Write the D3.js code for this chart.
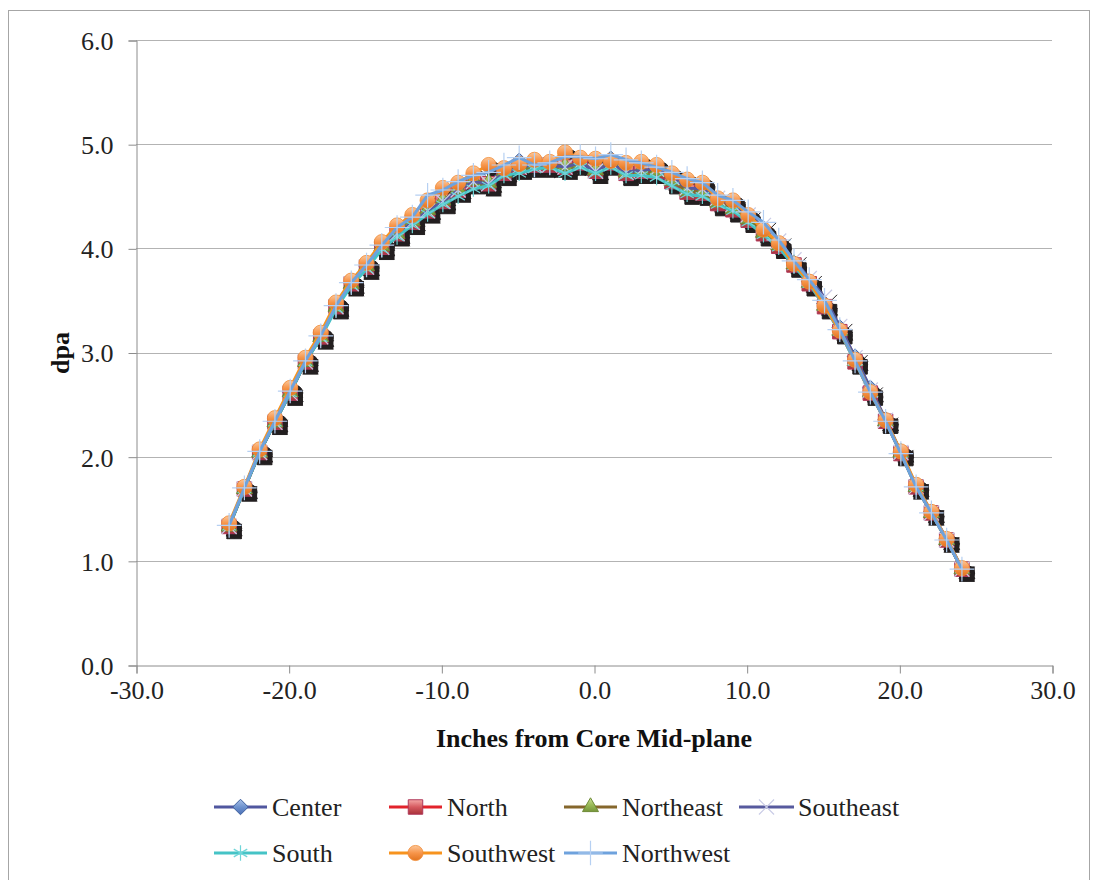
<!DOCTYPE html>
<html><head><meta charset="utf-8">
<script src="https://cdn.jsdelivr.net/npm/d3@7"></script>
<style>body{margin:0;background:#fff}svg{display:block}</style>
</head><body>
<svg id="c" width="1094" height="880"></svg>
<script>
const xInches = [-23.9,-22.9,-21.9,-20.9,-19.9,-18.9,-17.9,-16.9,-15.9,-14.9,-13.9,-12.9,-11.9,-10.9,-9.9,-8.9,-7.9,-6.9,-5.9,-4.9,-3.9,-2.9,-1.9,-0.9,0.1,1.1,2.1,3.1,4.1,5.1,6.1,7.1,8.1,9.1,10.1,11.1,12.1,13.1,14.1,15.1,16.1,17.1,18.1,19.1,20.1,21.1,22.1,23.1,24.1];
const center    = [1.34,1.70,2.05,2.34,2.62,2.92,3.16,3.45,3.67,3.83,4.03,4.15,4.26,4.38,4.46,4.57,4.65,4.63,4.76,4.84,4.81,4.80,4.79,4.82,4.75,4.86,4.74,4.75,4.75,4.66,4.56,4.55,4.45,4.38,4.29,4.16,4.04,3.86,3.68,3.47,3.24,2.96,2.66,2.36,2.04,1.72,1.47,1.21,0.93];
const north     = [1.33,1.69,2.04,2.33,2.61,2.91,3.15,3.44,3.66,3.82,4.01,4.14,4.25,4.36,4.45,4.56,4.64,4.62,4.72,4.78,4.80,4.80,4.78,4.82,4.74,4.82,4.72,4.74,4.74,4.64,4.54,4.53,4.43,4.37,4.27,4.14,4.02,3.84,3.66,3.44,3.20,2.91,2.61,2.34,2.03,1.71,1.46,1.20,0.92];
const northeast = [1.33,1.69,2.04,2.33,2.62,2.91,3.15,3.44,3.66,3.83,4.02,4.14,4.26,4.37,4.46,4.57,4.65,4.63,4.73,4.79,4.81,4.80,4.79,4.82,4.75,4.83,4.73,4.75,4.74,4.65,4.55,4.54,4.44,4.38,4.28,4.15,4.03,3.85,3.67,3.45,3.21,2.92,2.62,2.34,2.04,1.71,1.46,1.20,0.92];
const southeast = [1.33,1.69,2.04,2.33,2.61,2.91,3.15,3.44,3.66,3.82,4.01,4.14,4.25,4.36,4.45,4.56,4.64,4.62,4.72,4.78,4.80,4.80,4.78,4.82,4.74,4.82,4.73,4.75,4.76,4.68,4.58,4.57,4.48,4.42,4.32,4.22,4.07,3.89,3.71,3.53,3.25,2.95,2.64,2.35,2.04,1.71,1.46,1.20,0.92];
const south     = [1.33,1.69,2.04,2.33,2.61,2.91,3.14,3.42,3.64,3.80,3.99,4.11,4.22,4.33,4.42,4.50,4.57,4.60,4.70,4.72,4.76,4.78,4.72,4.78,4.72,4.78,4.70,4.70,4.68,4.60,4.52,4.50,4.42,4.36,4.25,4.13,4.01,3.83,3.66,3.44,3.20,2.91,2.61,2.34,2.03,1.71,1.46,1.20,0.92];
const southwest = [1.36,1.71,2.07,2.37,2.66,2.95,3.19,3.48,3.69,3.86,4.06,4.22,4.32,4.46,4.58,4.63,4.72,4.80,4.77,4.81,4.85,4.83,4.92,4.87,4.86,4.84,4.82,4.83,4.80,4.72,4.66,4.63,4.48,4.46,4.32,4.18,4.05,3.85,3.68,3.45,3.21,2.93,2.62,2.35,2.05,1.73,1.47,1.21,0.93];
const northwest = [1.34,1.70,2.05,2.34,2.63,2.92,3.16,3.45,3.67,3.84,4.03,4.20,4.30,4.51,4.56,4.64,4.70,4.73,4.80,4.87,4.80,4.82,4.88,4.88,4.86,4.90,4.85,4.82,4.78,4.73,4.67,4.63,4.51,4.46,4.35,4.25,4.08,3.88,3.70,3.50,3.22,2.92,2.62,2.34,2.03,1.71,1.46,1.20,0.92];
const seriesNames = ["Center","North","Northeast","Southeast","South","Southwest","Northwest"];
const xTicks = [-30,-20,-10,0,10,20,30];
const yTicks = [0,1,2,3,4,5,6];

const svg = d3.select("#c");
const font = "Liberation Serif, Times New Roman, serif";
const fs = 26;
const m = {l:136, r:1052, t:40, b:665};
const x = d3.scaleLinear().domain([-30,30]).range([m.l,m.r]);
const y = d3.scaleLinear().domain([0,6]).range([m.b,m.t]);
const fmt = d => d3.format(".1f")(d).replace("\u2212","-");

// outer border
svg.append("rect").attr("x",8.5).attr("y",10.5).attr("width",1081).attr("height",890)
  .attr("fill","#fff").attr("stroke","#a6a6a6").attr("stroke-width",1);

// gradients
const defs = svg.append("defs");
function grad(id, c1, c2, c3){
  const g = defs.append("linearGradient").attr("id",id).attr("x1",0).attr("y1",0).attr("x2",0).attr("y2",1);
  g.append("stop").attr("offset","0%").attr("stop-color",c1);
  g.append("stop").attr("offset","50%").attr("stop-color",c2);
  g.append("stop").attr("offset","100%").attr("stop-color",c3);
}
grad("gBlue","#a9c1e8","#6f93cf","#4a6fb5");
grad("gRed","#f4a7a5","#d65a5f","#a8323a");
grad("gGreen","#cfe3a0","#9bbb59","#76963a");
grad("gOrange","#fcc79a","#f7954a","#e2741f");

// gridlines
svg.append("g").selectAll("line").data(yTicks.filter(d=>d>0)).join("line")
  .attr("x1",m.l).attr("x2",m.r).attr("y1",d=>Math.round(y(d))+0.5).attr("y2",d=>Math.round(y(d))+0.5)
  .attr("stroke","#b3b3b3").attr("stroke-width",1);

// axes
const yAxis = d3.axisLeft(y).tickValues(yTicks).tickSize(8).tickFormat(fmt);
const gy = svg.append("g").attr("transform",`translate(${m.l+0.5},0.5)`).call(yAxis);
gy.select(".domain").attr("stroke","#8c8c8c");
gy.selectAll(".tick line").attr("stroke","#8c8c8c");
gy.selectAll(".tick text").attr("font-family",font).attr("font-size",fs).attr("fill","#222").attr("x",-23).attr("dy","0.34em");

const xAxis = d3.axisBottom(x).tickValues(xTicks).tickSize(8).tickFormat(fmt);
const gx = svg.append("g").attr("transform",`translate(0.5,${m.b+0.5})`).call(xAxis);
gx.select(".domain").attr("stroke","#8c8c8c");
gx.selectAll(".tick line").attr("stroke","#8c8c8c");
gx.selectAll(".tick text").attr("font-family",font).attr("font-size",fs).attr("fill","#222").attr("y",15).attr("dy","0.71em");

// titles
svg.append("text").attr("x",594).attr("y",747).attr("text-anchor","middle")
  .attr("font-family",font).attr("font-weight","bold").attr("font-size",fs).attr("fill","#111")
  .text("Inches from Core Mid-plane");
svg.append("text").attr("transform","translate(69,353) rotate(-90)").attr("text-anchor","middle")
  .attr("font-family",font).attr("font-weight","bold").attr("font-size",fs).attr("fill","#111")
  .text("dpa");

// marker types
const diamondSq = { draw(ctx, size){ const r = Math.sqrt(size/2); ctx.moveTo(0,-r); ctx.lineTo(r,0); ctx.lineTo(0,r); ctx.lineTo(-r,0); ctx.closePath(); } };
const sym = (name)=>{
  if(name==="diamond") return diamondSq;
  if(name==="times") return d3.symbolTimes || d3.symbolX;
  if(name==="asterisk") return d3.symbolAsterisk;
  if(name==="plus") return d3.symbolPlus;
  return d3[name];
};
const styles = [
  {data:center,    line:"#50579f", type:"diamond",        size:120, fill:"url(#gBlue)",  stroke:"#3d5f9e", sw:1, shadow:true},
  {data:north,     line:"#e2232b", type:"symbolSquare",   size:210, fill:"url(#gRed)",   stroke:"#b0385a", sw:1, shadow:true},
  {data:northeast, line:"#85672c", type:"symbolTriangle", size:110, fill:"url(#gGreen)", stroke:"#6d8a34", sw:1, shadow:true},
  {data:southeast, line:"#575a9e", type:"times",          size:150, fill:"none",         stroke:"#c9cbe6", sw:1.2, shadow:true},
  {data:south,     line:"#45c3c6", type:"asterisk",       size:170, fill:"none",         stroke:"#6fd5d8", sw:1.2, shadow:false},
  {data:southwest, line:"#f7931e", type:"symbolCircle",   size:180, fill:"url(#gOrange)",stroke:"#f08a33", sw:0.8, shadow:true},
  {data:northwest, line:"#6ea2dd", type:"plus",           size:200, fill:"none",         stroke:"#b6d0f2", sw:1.2, shadow:false}
];

const plot = svg.append("g");
// drop shadows of markers
styles.filter(s=>s.shadow).forEach(s=>{
  const gen = d3.symbol().type(sym(s.type)).size(s.size);
  plot.append("g").selectAll("path").data(s.data).join("path")
    .attr("d",gen)
    .attr("transform",(d,i)=>`translate(${x(xInches[i])+5},${y(d)+5})`)
    .attr("fill", s.fill==="none" ? "none" : "#231f20")
    .attr("stroke", "#231f20").attr("stroke-width", 1);
});
const lineGen = d3.line().x((d,i)=>x(xInches[i])).y(d=>y(d));
styles.forEach(s=>{
  const g = plot.append("g");
  g.append("path").datum(s.data).attr("d",lineGen).attr("fill","none")
    .attr("stroke",s.line).attr("stroke-width",3).attr("stroke-linejoin","round");
  const gen = d3.symbol().type(sym(s.type)).size(s.size);
  g.selectAll("path.m").data(s.data).join("path").attr("class","m")
    .attr("d",gen)
    .attr("transform",(d,i)=>`translate(${x(xInches[i])},${y(d)})`)
    .attr("fill",s.fill).attr("stroke",s.stroke).attr("stroke-width",s.sw);
});

// legend
const legendPos = [
  {x1:214,x2:267,tx:272,y:807},
  {x1:389,x2:442,tx:447,y:807},
  {x1:564,x2:617,tx:622,y:807},
  {x1:739,x2:794,tx:798,y:807},
  {x1:214,x2:267,tx:272,y:853},
  {x1:389,x2:442,tx:447,y:853},
  {x1:564,x2:617,tx:622,y:853}
];
const lg = svg.append("g");
styles.forEach((s,i)=>{
  const p = legendPos[i];
  lg.append("line").attr("x1",p.x1).attr("x2",p.x2).attr("y1",p.y).attr("y2",p.y)
    .attr("stroke",s.line).attr("stroke-width",3);
  lg.append("path").attr("d",d3.symbol().type(sym(s.type)).size(s.size)())
    .attr("transform",`translate(${(p.x1+p.x2)/2},${p.y})`)
    .attr("fill",s.fill).attr("stroke",s.stroke).attr("stroke-width",s.sw);
  lg.append("text").attr("x",p.tx).attr("y",p.y).attr("dy","0.35em")
    .attr("font-family",font).attr("font-size",fs).attr("fill","#222").text(seriesNames[i]);
});
</script>
</body></html>
